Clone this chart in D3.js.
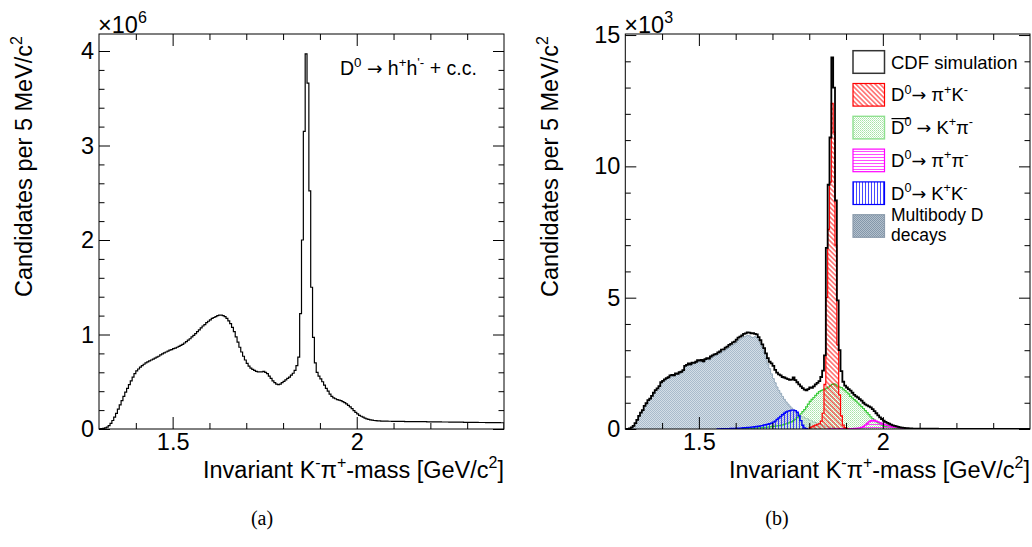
<!DOCTYPE html>
<html><head><meta charset="utf-8">
<script src="https://cdn.jsdelivr.net/npm/d3@7"></script>
<style>
body{margin:0;background:#fff}
svg{display:block}
text{font-family:"Liberation Sans",Arial,Helvetica,sans-serif;fill:#000}
</style>
</head><body>
<svg id="chart" width="1032" height="547"></svg>
<script>
// ---------------- data ----------------
const binWidth = 0.005;                 // GeV/c^2 (5 MeV bins)
const massRange = [1.3, 2.4];
const xMajorTicks = [1.5, 2.0];
const xTickLabels = ["1.5", "2"];
const xMinorTicks = [1.4, 1.6, 1.7, 1.8, 1.9, 2.1, 2.2, 2.3];

const leftYMax = 4.18;                  // x10^6
const leftYMajor = [0, 1, 2, 3, 4];
const leftYLabels = ["0", "1", "2", "3", "4"];
const leftYMinor = [0.2,0.4,0.6,0.8,1.2,1.4,1.6,1.8,2.2,2.4,2.6,2.8,3.2,3.4,3.6,3.8];

const rightYMax = 15.04;                // x10^3
const rightYMajor = [0, 5, 10, 15];
const rightYLabels = ["0", "5", "10", "15"];
const rightYMinor = [1,2,3,4,6,7,8,9,11,12,13,14];

// (a) data: D0 -> h+h'- + c.c., candidates per 5 MeV (x10^6)
const dataStart = 1.3;
const dataCounts = [
0.002,0.004,0.007,0.012,0.02,0.035,0.06,0.09,0.125,0.165,
0.21,0.255,0.30,0.345,0.39,0.43,0.47,0.51,0.55,0.585,
0.615,0.635,0.655,0.67,0.685,0.70,0.71,0.72,0.73,0.74,
0.75,0.76,0.77,0.785,0.795,0.805,0.815,0.825,0.835,0.84,
0.85,0.855,0.865,0.875,0.885,0.895,0.91,0.925,0.94,0.955,
0.975,0.99,1.01,1.03,1.05,1.07,1.09,1.105,1.125,1.14,
1.155,1.17,1.18,1.19,1.20,1.205,1.205,1.20,1.19,1.17,
1.145,1.115,1.075,1.03,0.975,0.92,0.865,0.815,0.77,0.73,
0.695,0.665,0.645,0.63,0.62,0.61,0.605,0.605,0.605,0.61,
0.60,0.585,0.56,0.535,0.51,0.49,0.475,0.47,0.475,0.49,
0.505,0.52,0.535,0.55,0.57,0.59,0.62,0.67,0.76,1.22,
2.00,3.15,3.97,3.66,2.52,1.50,0.97,0.70,0.60,0.56,
0.53,0.50,0.465,0.43,0.40,0.37,0.345,0.33,0.32,0.31,
0.305,0.30,0.29,0.28,0.265,0.25,0.235,0.215,0.195,0.175,
0.16,0.145,0.135,0.125,0.115,0.108,0.102,0.097,0.093,0.09,
0.088,0.086,0.085,0.084,0.084,0.083,0.083,0.082,0.082,0.081,
0.081,0.081,0.080,0.080,0.080,0.080,0.079,0.079,0.079,0.079,
0.078,0.078,0.078,0.078,0.077,0.077,0.077,0.077,0.076,0.076,
0.076,0.076,0.075,0.075,0.075,0.075,0.074,0.074,0.074,0.074,
0.073,0.073,0.073,0.073,0.072,0.072,0.072,0.072,0.071,0.071,
0.071,0.071,0.070,0.070,0.070,0.070,0.069,0.069,0.069,0.069,
0.068,0.068,0.068,0.068,0.067,0.067,0.067,0.067,0.066,0.066];

// (b) CDF simulation total (x10^3)
const simStart = 1.3;
const simCounts = [
0,0,0.02,0.06,0.12,0.22,0.35,0.50,0.62,0.72,
0.88,0.98,1.10,1.16,1.26,1.38,1.48,1.55,1.63,1.78,
1.83,1.89,1.94,1.97,2.04,2.06,2.04,2.12,2.10,2.16,
2.18,2.24,2.40,2.44,2.50,2.46,2.53,2.52,2.56,2.62,
2.60,2.63,2.58,2.66,2.70,2.68,2.76,2.80,2.84,2.86,
2.92,2.95,3.02,3.03,3.10,3.14,3.20,3.24,3.30,3.33,
3.40,3.48,3.52,3.56,3.62,3.64,3.68,3.67,3.64,3.65,
3.62,3.60,3.50,3.38,3.22,3.08,2.88,2.70,2.56,2.50,
2.40,2.25,2.15,2.08,2.04,1.98,1.96,1.93,1.90,1.87,
1.88,1.96,1.86,1.78,1.70,1.62,1.56,1.50,1.47,1.52,
1.58,1.57,1.62,1.70,1.76,1.82,1.98,2.22,2.80,6.9,
9.3,11.1,14.15,13.0,8.7,4.9,3.0,2.2,1.8,1.65,
1.58,1.52,1.46,1.38,1.30,1.24,1.20,1.14,1.08,1.00,
0.94,0.90,0.86,0.82,0.76,0.68,0.60,0.52,0.44,0.38,
0.32,0.27,0.23,0.20,0.17,0.14,0.12,0.10,0.08,0.06,
0.05,0.04,0.035,0.03,0.025,0.02,0.015,0.015,0.012,0.012,
0.01,0.01,0.01,0.01,0.01,0.01,0.01,0.01,0.01,0.01,
0.008,0.008,0.008,0.008,0.008,0.008,0.008,0.008,0.008,0.008,
0.005,0.005,0.005,0.005,0.005,0.005,0.005,0.005,0.005,0.005,
0.005,0.005,0.005,0.005,0.005,0.005,0.005,0.005,0.005,0.005,
0.004,0.004,0.004,0.004,0.004,0.004,0.004,0.004,0.004,0.004,
0.004,0.004,0.004,0.004,0.004,0.004,0.004,0.004,0.004,0.004];

// Multibody D decays
const multiStart = 1.3;
const multiCounts = [
0,0,0.02,0.06,0.12,0.21,0.34,0.48,0.60,0.70,
0.86,0.96,1.08,1.14,1.24,1.36,1.46,1.53,1.61,1.75,
1.80,1.86,1.91,1.94,2.01,2.03,2.01,2.09,2.07,2.12,
2.14,2.20,2.36,2.40,2.46,2.42,2.49,2.48,2.52,2.57,
2.55,2.58,2.53,2.61,2.65,2.63,2.70,2.74,2.78,2.80,
2.86,2.88,2.95,2.96,3.03,3.06,3.12,3.16,3.21,3.24,
3.30,3.38,3.42,3.46,3.51,3.53,3.56,3.55,3.50,3.48,
3.52,3.48,3.40,3.28,3.10,2.90,2.68,2.48,2.30,2.10,
1.92,1.76,1.60,1.47,1.36,1.24,1.13,1.03,0.95,0.87,
0.80,0.73,0.67,0.61,0.55,0.50,0.46,0.43,0.40,0.37,
0.33,0.30,0.27,0.25,0.22,0.19,0.16,0.14,0.12,0.10,
0.08,0.07,0.06,0.05,0.04,0.035,0.03,0.025,0.02,0.015,
0.012,0.01,0.008,0.006,0.005,0.004,0.003,0.002,0.001,0];

// D0 -> pi+ K- (red)
const kpiStart = 1.8;
const kpiCounts = [
0.05,0.08,0.12,0.15,0.18,0.2,0.3,0.6,1.7,5.0,
7.6,9.4,12.4,11.3,7.0,3.2,1.3,0.5,0.15,0.05,0.02];

// D0bar -> K+ pi- (green)
const kpiSwapStart = 1.6;
const kpiSwapCounts = [
0.005,0.006,0.008,0.01,0.012,0.014,0.016,0.018,0.02,0.025,
0.03,0.035,0.04,0.045,0.05,0.055,0.06,0.07,0.08,0.09,
0.10,0.11,0.12,0.13,0.14,0.16,0.18,0.20,0.22,0.25,
0.28,0.32,0.37,0.43,0.50,0.58,0.66,0.74,0.84,0.95,
1.05,1.13,1.20,1.28,1.36,1.42,1.46,1.49,1.52,1.56,
1.60,1.65,1.70,1.72,1.68,1.63,1.60,1.58,1.52,1.46,
1.40,1.34,1.24,1.18,1.12,1.06,0.99,0.92,0.85,0.78,
0.70,0.62,0.55,0.46,0.40,0.34,0.28,0.24,0.19,0.15,
0.12,0.10,0.08,0.07,0.06,0.05,0.045,0.04,0.035,0.03,
0.025,0.02,0.02,0.015,0.015,0.01,0.01,0.01,0.008,0.008,
0.006,0.006,0.005,0.005,0.004,0.004,0.003,0.003,0.002,0.002];

// D0 -> pi+ pi- (magenta)
const pipiStart = 1.85;
const pipiCounts = [
0.005,0.005,0.006,0.006,0.008,0.008,0.01,0.01,0.012,0.012,
0.014,0.015,0.016,0.018,0.02,0.025,0.03,0.04,0.06,0.10,
0.15,0.21,0.27,0.32,0.34,0.33,0.30,0.27,0.24,0.21,
0.18,0.16,0.14,0.12,0.10,0.09,0.075,0.06,0.05,0.04,
0.03,0.025,0.02,0.015,0.012,0.01,0.008,0.006,0.004,0.002];

// D0 -> K+ K- (blue)
const kkStart = 1.55;
const kkCounts = [
0.005,0.005,0.01,0.01,0.01,0.015,0.015,0.02,0.02,0.025,
0.03,0.03,0.035,0.04,0.045,0.05,0.055,0.06,0.07,0.075,
0.085,0.095,0.105,0.12,0.13,0.15,0.165,0.18,0.20,0.22,
0.26,0.30,0.36,0.42,0.48,0.54,0.60,0.65,0.68,0.70,
0.72,0.72,0.70,0.64,0.50,0.32,0.14,0.04,0.01];

// text
const yTitleParts = [["Candidates per 5 MeV/c",""],["2","sup"]];
const xTitleParts = [["Invariant K",""],["-","sup"],["\u03c0",""],["+","sup"],["-mass [GeV/c",""],["2","sup"],["]",""]];
const leftNoteParts = [["D",""],["0","sup"],[" ",""],["\u2192","sym"],[" h",""],["+","sup"],["h",""],["'-","sup"],[" + c.c.",""]];
const legendEntries = [
  {key:"sim",   parts:[["CDF simulation",""]]},
  {key:"kpi",   parts:[["D",""],["0","sup"],["\u2192","sym"],[" \u03c0",""],["+","sup"],["K",""],["-","sup"]]},
  {key:"kpis",  parts:[["D",""],["0","sup"],[" ",""],["\u2192","sym"],[" K",""],["+","sup"],["\u03c0",""],["-","sup"]], bar:true},
  {key:"pipi",  parts:[["D",""],["0","sup"],["\u2192","sym"],[" \u03c0",""],["+","sup"],["\u03c0",""],["-","sup"]]},
  {key:"kk",    parts:[["D",""],["0","sup"],["\u2192","sym"],[" K",""],["+","sup"],["K",""],["-","sup"]]},
  {key:"multi", parts:[["Multibody D",""]], line2:"decays"}
];
const captions = ["(a)", "(b)"];

// ---------------- drawing ----------------
const FS = 23.5;
const svg = d3.select("#chart");
const defs = svg.append("defs");

function linePattern(id, w, h, x1, y1, x2, y2, color, sw, transform) {
  const p = defs.append("pattern").attr("id", id).attr("patternUnits", "userSpaceOnUse")
    .attr("width", w).attr("height", h);
  if (transform) p.attr("patternTransform", transform);
  p.append("line").attr("x1", x1).attr("y1", y1).attr("x2", x2).attr("y2", y2)
    .attr("stroke", color).attr("stroke-width", sw);
}
linePattern("pRed", 3.4, 6, 1.7, 0, 1.7, 6, "#ff0000", 0.9, "rotate(-45)");
linePattern("pMag", 6, 3, 0, 1.5, 6, 1.5, "#ff22ff", 0.8);
linePattern("pBlue", 3, 6, 1.5, 0, 1.5, 6, "#1a1aff", 0.8);
{
  const p = defs.append("pattern").attr("id", "pGreen").attr("patternUnits", "userSpaceOnUse").attr("width", 2).attr("height", 2);
  p.append("rect").attr("x", 0).attr("y", 0).attr("width", 1).attr("height", 1).attr("fill", "#a6e3a6");
  p.append("rect").attr("x", 1).attr("y", 1).attr("width", 1).attr("height", 1).attr("fill", "#c4eec4");
}
function greyPattern(id, base, dot) {
  const p = defs.append("pattern").attr("id", id).attr("patternUnits", "userSpaceOnUse").attr("width", 2).attr("height", 2);
  p.append("rect").attr("width", 2).attr("height", 2).attr("fill", base);
  p.append("rect").attr("x", 0).attr("y", 0).attr("width", 1).attr("height", 1).attr("fill", dot);
  p.append("rect").attr("x", 1).attr("y", 1).attr("width", 1).attr("height", 1).attr("fill", dot);
}
greyPattern("pGrey", "#d4dee7", "#a9bbcb");
greyPattern("pGreyLeg", "#b3c0cc", "#8497aa");

function richText(sel, parts, fs) {
  let up = false;
  parts.forEach(([s, k]) => {
    const t = sel.append("tspan").text(s);
    if (k === "sup") {
      t.attr("font-size", (fs * 0.68).toFixed(1));
      t.attr("dy", up ? 0 : -(fs * 0.42).toFixed(1));
      up = true;
    } else {
      t.attr("font-size", fs);
      t.attr("dy", up ? (fs * 0.42).toFixed(1) : 0);
      if (k === "sym") t.style("font-family", "'DejaVu Sans', sans-serif").attr("font-size", fs * 0.95);
      up = false;
    }
  });
}

function histPath(x, y, start, vals) {
  const p = d3.path();
  p.moveTo(x(start), y(0));
  vals.forEach((v, i) => {
    const a = start + i * binWidth;
    p.lineTo(x(a), y(v));
    p.lineTo(x(a + binWidth), y(v));
  });
  p.lineTo(x(start + vals.length * binWidth), y(0));
  return p.toString();
}

function panel(cfg) {
  const {x0, x1, y0, y1, yMax, yMajor, yLabels, yMinor, id} = cfg;
  const x = d3.scaleLinear().domain(massRange).range([x0, x1]);
  const y = d3.scaleLinear().domain([0, yMax]).range([y1, y0]);
  const g = svg.append("g");
  defs.append("clipPath").attr("id", "clip" + id)
    .append("rect").attr("x", x0).attr("y", y0).attr("width", x1 - x0).attr("height", y1 - y0);
  const plot = g.append("g").attr("clip-path", `url(#clip${id})`);

  const style = a => a.call(s => s.select(".domain").remove())
    .attr("font-size", FS).attr("font-family", "'Liberation Sans', Arial, sans-serif")
    .call(s => s.selectAll("line").attr("stroke", "#000").attr("stroke-width", 1));

  g.append("g").attr("transform", `translate(0,${y1})`)
    .call(d3.axisBottom(x).tickValues(xMajorTicks).tickSizeInner(-12).tickSizeOuter(0).tickPadding(4)
      .tickFormat((d, i) => xTickLabels[i])).call(style);
  g.append("g").attr("transform", `translate(0,${y1})`)
    .call(d3.axisBottom(x).tickValues(xMinorTicks).tickSizeInner(-6).tickSizeOuter(0).tickFormat("")).call(style);
  g.append("g").attr("transform", `translate(0,${y0})`)
    .call(d3.axisTop(x).tickValues(xMajorTicks).tickSizeInner(-12).tickSizeOuter(0).tickFormat("")).call(style);
  g.append("g").attr("transform", `translate(0,${y0})`)
    .call(d3.axisTop(x).tickValues(xMinorTicks).tickSizeInner(-6).tickSizeOuter(0).tickFormat("")).call(style);
  g.append("g").attr("transform", `translate(${x0},0)`)
    .call(d3.axisLeft(y).tickValues(yMajor).tickSizeInner(-11).tickSizeOuter(0).tickPadding(5)
      .tickFormat((d, i) => yLabels[i])).call(style);
  g.append("g").attr("transform", `translate(${x0},0)`)
    .call(d3.axisLeft(y).tickValues(yMinor).tickSizeInner(-5.5).tickSizeOuter(0).tickFormat("")).call(style);
  g.append("g").attr("transform", `translate(${x1},0)`)
    .call(d3.axisRight(y).tickValues(yMajor).tickSizeInner(-11).tickSizeOuter(0).tickFormat("")).call(style);
  g.append("g").attr("transform", `translate(${x1},0)`)
    .call(d3.axisRight(y).tickValues(yMinor).tickSizeInner(-5.5).tickSizeOuter(0).tickFormat("")).call(style);

  g.append("rect").attr("x", x0).attr("y", y0).attr("width", x1 - x0).attr("height", y1 - y0)
    .attr("fill", "none").attr("stroke", "#000").attr("stroke-width", 1);

  const ex = g.append("text").attr("x", x0 - 1).attr("y", y0 - 1);
  richText(ex, [["\u00d710", ""], [cfg.exponent, "sup"]], FS);

  const yt = g.append("text").attr("text-anchor", "end")
    .attr("transform", `translate(${cfg.yTitleX},${y0 + 2}) rotate(-90)`);
  richText(yt, yTitleParts, FS);
  const xt = g.append("text").attr("text-anchor", "end").attr("x", x1).attr("y", 478);
  richText(xt, xTitleParts, FS);

  g.append("text").attr("x", cfg.captionX).attr("y", 525).attr("text-anchor", "middle")
    .style("font-family", "'Liberation Serif','DejaVu Serif',serif").attr("font-size", 20).text(cfg.caption);

  return {x, y, plot, g};
}

// ----- panel (a)
const A = panel({id: "a", x0: 99, x1: 504, y0: 34, y1: 429, yMax: leftYMax, yMajor: leftYMajor,
  yLabels: leftYLabels, yMinor: leftYMinor, exponent: "6", yTitleX: 32, captionX: 262, caption: captions[0]});
A.plot.append("path").attr("d", histPath(A.x, A.y, dataStart, dataCounts))
  .attr("fill", "none").attr("stroke", "#000").attr("stroke-width", 1.2);
const note = A.g.append("text").attr("x", 340).attr("y", 75);
richText(note, leftNoteParts, 19.5);

// ----- panel (b)
const B = panel({id: "b", x0: 625.3, x1: 1030, y0: 34, y1: 429, yMax: rightYMax, yMajor: rightYMajor,
  yLabels: rightYLabels, yMinor: rightYMinor, exponent: "3", yTitleX: 558, captionX: 777, caption: captions[1]});

const comps = [
  {start: multiStart, vals: multiCounts, fill: "url(#pGrey)", stroke: "#94a9bb", sw: 1},
  {start: kpiSwapStart, vals: kpiSwapCounts, fill: "url(#pGreen)", stroke: "#3dcc3d", sw: 1.2},
  {start: kkStart, vals: kkCounts, fill: "url(#pBlue)", stroke: "#0000ff", sw: 1.4},
  {start: pipiStart, vals: pipiCounts, fill: "url(#pMag)", stroke: "#ff00ff", sw: 1.3},
  {start: kpiStart, vals: kpiCounts, fill: "url(#pRed)", stroke: "#ff0000", sw: 1.2}
];
comps.forEach(c => {
  B.plot.append("path").attr("d", histPath(B.x, B.y, c.start, c.vals))
    .attr("fill", c.fill).attr("stroke", c.stroke).attr("stroke-width", c.sw);
});
B.plot.append("path").attr("d", histPath(B.x, B.y, simStart, simCounts))
  .attr("fill", "none").attr("stroke", "#000").attr("stroke-width", 1.8);

// legend
const legStyle = {
  sim:   {fill: "#fff", stroke: "#333", sw: 1.5},
  kpi:   {fill: "url(#pRed)", stroke: "#ff0000", sw: 1.2},
  kpis:  {fill: "url(#pGreen)", stroke: "#8fe08f", sw: 1.4},
  pipi:  {fill: "url(#pMag)", stroke: "#ff00ff", sw: 1.2},
  kk:    {fill: "url(#pBlue)", stroke: "#0000ff", sw: 1.2},
  multi: {fill: "url(#pGreyLeg)", stroke: "#8c9cac", sw: 1.2}
};
const leg = B.g.append("g");
legendEntries.forEach((e, i) => {
  const cy = 62 + i * 32.8;
  const st = legStyle[e.key];
  leg.append("rect").attr("x", 853).attr("y", cy - 11.3).attr("width", 31.5).attr("height", 22.6)
    .attr("fill", st.fill).attr("stroke", st.stroke).attr("stroke-width", st.sw);
  const t = leg.append("text").attr("x", 891).attr("y", e.line2 ? cy - 5 : cy + 6.5);
  richText(t, e.parts, e.line2 ? 17.5 : 18.5);
  if (e.line2) {
    leg.append("text").attr("x", 891).attr("y", cy + 14.5).attr("font-size", 17.5).text(e.line2);
  }
  if (e.bar) {
    const first = t.select("tspan").node();
    const w = first.getComputedTextLength();
    leg.append("line").attr("x1", 891.5).attr("x2", 891 + w + 5).attr("y1", cy - 9).attr("y2", cy - 9)
      .attr("stroke", "#000").attr("stroke-width", 1.2);
  }
});
</script>
</body></html>
